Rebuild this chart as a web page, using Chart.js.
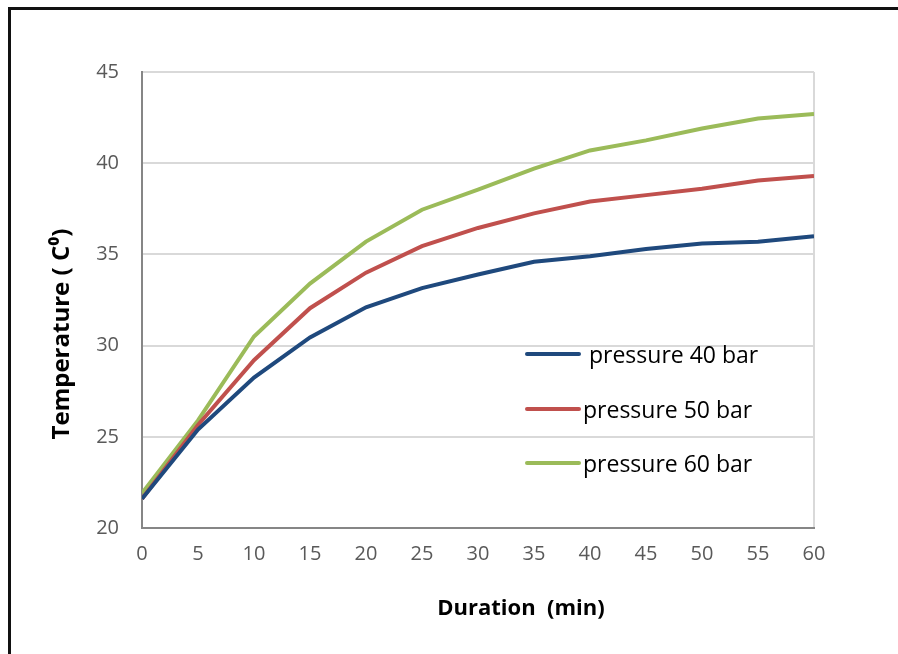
<!DOCTYPE html>
<html>
<head>
<meta charset="utf-8">
<script src="https://cdn.jsdelivr.net/npm/chart.js@4.4.1/dist/chart.umd.min.js"></script>
<style>
  html, body { margin: 0; padding: 0; background: #fff; }
  #wrap { width: 898px; height: 654px; }
</style>
</head>
<body>
<div id="wrap"><canvas id="chart" width="898" height="654"></canvas></div>
<script>
// 数据
const durations = [0, 5, 10, 15, 20, 25, 30, 35, 40, 45, 50, 55, 60];
const pressure40 = [21.6, 25.4, 28.25, 30.45, 32.1, 33.15, 33.9, 34.6, 34.9, 35.3, 35.6, 35.7, 36.0];
const pressure50 = [21.6, 25.65, 29.2, 32.05, 34.0, 35.45, 36.45, 37.25, 37.9, 38.25, 38.6, 39.05, 39.3];
const pressure60 = [21.9, 25.9, 30.5, 33.4, 35.7, 37.45, 38.55, 39.7, 40.7, 41.25, 41.9, 42.45, 42.7];
const seriesLabels = [' pressure 40 bar', 'pressure 50 bar', 'pressure 60 bar'];
const seriesColors = ['#1f497d', '#c0504d', '#9bbb59'];
const yTicks = [20, 25, 30, 35, 40, 45];

const toPoints = arr => arr.map((v, i) => ({ x: durations[i], y: v }));

// 外框、坐标轴标题和图例
const decorPlugin = {
    id: 'decor',
    beforeDraw(chart) {
        const ctx = chart.ctx;
        ctx.save();
        ctx.fillStyle = '#fff';
        ctx.fillRect(0, 0, chart.width, chart.height);
        ctx.strokeStyle = '#111';
        ctx.lineWidth = 3;
        ctx.strokeRect(9.5, 8.5, 920, 700);
        ctx.restore();
    },
    afterDraw(chart) {
        const ctx = chart.ctx;
        ctx.save();
        ctx.fillStyle = '#000';
        ctx.font = 'bold 22px "Open Sans"';
        ctx.textAlign = 'center';
        ctx.textBaseline = 'middle';
        ctx.fillText('Duration  (min)', 521, 609);
        ctx.font = 'bold 24px "Open Sans"';
        ctx.translate(62, 334);
        ctx.rotate(-Math.PI / 2);
        ctx.fillText('Temperature ( C\u2070)', 0, 0);
        ctx.restore();

        // 图例
        ctx.save();
        ctx.font = '23px "Open Sans"';
        ctx.textBaseline = 'middle';
        ctx.lineCap = 'round';
        const rows = [354, 409, 463];
        chart.data.datasets.forEach((ds, i) => {
            ctx.strokeStyle = ds.borderColor;
            ctx.lineWidth = 4;
            ctx.beginPath();
            ctx.moveTo(527, rows[i]);
            ctx.lineTo(579, rows[i]);
            ctx.stroke();
            ctx.fillStyle = '#000';
            ctx.fillText(ds.label, 583, rows[i] + 2);
        });
        ctx.restore();
    }
};

new Chart(document.getElementById('chart'), {
    type: 'line',
    data: {
        datasets: [pressure40, pressure50, pressure60].map((arr, i) => ({
            label: seriesLabels[i],
            data: toPoints(arr),
            borderColor: seriesColors[i],
            backgroundColor: seriesColors[i],
            borderWidth: 4,
            pointRadius: 0,
            tension: 0,
            fill: false
        }))
    },
    options: {
        responsive: false,
        animation: false,
        layout: { padding: { left: 0, top: 72, right: 84, bottom: 0 } },
        plugins: {
            legend: { display: false },
            tooltip: { enabled: false }
        },
        scales: {
            x: {
                type: 'linear',
                min: 0,
                max: 60,
                afterFit: s => { s.height = 126; },
                ticks: {
                    stepSize: 5,
                    padding: 14,
                    color: '#595959',
                    font: { family: 'Open Sans', size: 20 }
                },
                grid: {
                    drawTicks: false,
                    color: c => c.tick && c.tick.value === 60 ? '#d9d9d9' : 'rgba(0,0,0,0)',
                    lineWidth: 2
                },
                border: { color: '#868686', width: 2 }
            },
            y: {
                min: 20,
                max: 45,
                afterFit: s => { s.width = 142; },
                afterBuildTicks: s => { s.ticks = yTicks.map(v => ({ value: v })); },
                ticks: {
                    padding: 23,
                    color: '#595959',
                    font: { family: 'Open Sans', size: 20 }
                },
                grid: { drawTicks: false, color: '#d9d9d9', lineWidth: 2 },
                border: { color: '#868686', width: 2 }
            }
        }
    },
    plugins: [decorPlugin]
});
</script>
</body>
</html>
